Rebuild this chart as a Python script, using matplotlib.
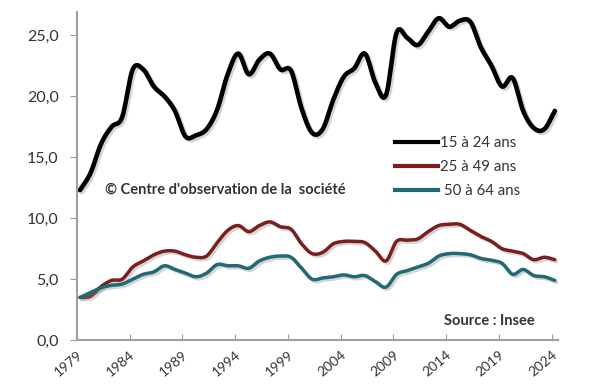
import matplotlib
matplotlib.use('Agg')
import matplotlib.pyplot as plt
import matplotlib.patheffects as pe
from matplotlib.lines import Line2D
import numpy as np

plt.rcParams['font.family'] = ['Lato', 'DejaVu Sans']

years = list(range(1979, 2025))
tick_years = list(range(1979, 2025, 5))

# chômage 15 à 24 ans
jeunes = [12.3, 13.7, 16.1, 17.5, 18.3, 22.2, 22.2, 20.8, 20.0, 18.8,
          16.7, 16.8, 17.3, 18.9, 21.8, 23.5, 21.8, 23.0, 23.5, 22.2,
          22.1, 19.0, 17.0, 17.3, 19.7, 21.6, 22.3, 23.5, 21.1, 20.1,
          25.2, 24.8, 24.2, 25.3, 26.4, 25.7, 26.2, 26.1, 24.0, 22.5,
          20.8, 21.5, 18.8, 17.4, 17.3, 18.8]
# 25 à 49 ans
adultes = [3.5, 3.6, 4.4, 4.9, 5.0, 6.0, 6.5, 7.0, 7.3, 7.3,
           7.0, 6.8, 6.9, 8.0, 9.0, 9.4, 8.9, 9.4, 9.7, 9.3,
           9.1, 7.9, 7.1, 7.2, 7.9, 8.1, 8.1, 8.0, 7.3, 6.5,
           8.1, 8.2, 8.3, 8.9, 9.4, 9.5, 9.5, 9.0, 8.5, 8.1,
           7.5, 7.3, 7.1, 6.6, 6.8, 6.6]
# 50 à 64 ans
seniors = [3.5, 3.9, 4.3, 4.5, 4.6, 5.0, 5.4, 5.6, 6.1, 5.8,
           5.5, 5.2, 5.5, 6.2, 6.1, 6.1, 5.9, 6.5, 6.8, 6.9,
           6.8, 5.9, 5.0, 5.1, 5.2, 5.35, 5.2, 5.3, 4.8, 4.35,
           5.4, 5.7, 6.0, 6.3, 6.9, 7.1, 7.1, 7.0, 6.7, 6.55,
           6.3, 5.4, 5.8, 5.3, 5.2, 4.9]

labels = ['15 à 24 ans', '25 à 49 ans', ' 50 à 64 ans']
colors = ['#000000', '#7a1f1f', '#1f6a73']
widths = [3.3, 2.5, 2.5]


def smooth(x, y, n=12):
    # Catmull-Rom, a bit like Excel's smoothed lines
    x = np.asarray(x, float)
    y = np.asarray(y, float)
    px = np.concatenate([[2 * x[0] - x[1]], x, [2 * x[-1] - x[-2]]])
    py = np.concatenate([[2 * y[0] - y[1]], y, [2 * y[-1] - y[-2]]])
    xs, ys = [], []
    t = np.linspace(0, 1, n, endpoint=False)
    for i in range(1, len(px) - 2):
        for p, out in ((px, xs), (py, ys)):
            p0, p1, p2, p3 = p[i - 1], p[i], p[i + 1], p[i + 2]
            out.extend(0.5 * (2 * p1 + (-p0 + p2) * t
                              + (2 * p0 - 5 * p1 + 4 * p2 - p3) * t ** 2
                              + (-p0 + 3 * p1 - 3 * p2 + p3) * t ** 3))
    xs.append(x[-1])
    ys.append(y[-1])
    return np.array(xs), np.array(ys)


fig = plt.figure(figsize=(6, 3.91), dpi=100)
ax = fig.add_axes([0.128, 0.130, 0.802, 0.839])

shadow = [pe.SimpleLineShadow(offset=(1.5, -1.5), shadow_color='#888888', alpha=0.35),
          pe.Normal()]
for serie, c, lw in zip([jeunes, adultes, seniors], colors, widths):
    sx, sy = smooth(years, serie)
    ax.plot(sx, sy, color=c, linewidth=lw, solid_capstyle='round',
            path_effects=shadow)

ax.set_xlim(1978.72, 2024.3)
ax.set_ylim(0, 26.9)
ax.set_yticks([0, 5, 10, 15, 20, 25])
ax.set_yticklabels(['0,0', '5,0', '10,0', '15,0', '20,0', '25,0'], fontsize=11.5, color='#333333')
ax.set_xticks([y - 0.3 for y in tick_years])
ax.set_xticklabels([str(y) for y in tick_years], fontsize=10, color='#333333',
                   rotation=40, ha='right', rotation_mode='anchor')
ax.tick_params(axis='x', direction='in', length=4, color='#999999', pad=6)
ax.tick_params(axis='y', direction='out', length=5, color='#999999', pad=8)

for s in ['top', 'right']:
    ax.spines[s].set_visible(False)
for s in ['left', 'bottom']:
    ax.spines[s].set_color('#a0a0a0')
    ax.spines[s].set_linewidth(1.5)

handles = [Line2D([], [], color=c, linewidth=3) for c in colors]
ax.legend(handles, labels, loc='upper left', bbox_to_anchor=(0.635, 0.686),
          bbox_transform=fig.transFigure, frameon=False, fontsize=10.8,
          handlelength=2.9, handletextpad=0.1, labelspacing=0.65,
          labelcolor='#333333')

fig.text(0.175, 0.514, "© Centre d'observation de la  société", fontsize=10.5,
         fontweight='bold', color='#333333', va='center')
fig.text(0.74, 0.178, 'Source : Insee', fontsize=10.5, fontweight='bold',
         color='#333333', va='center')

fig.savefig('out.png', dpi=100)
